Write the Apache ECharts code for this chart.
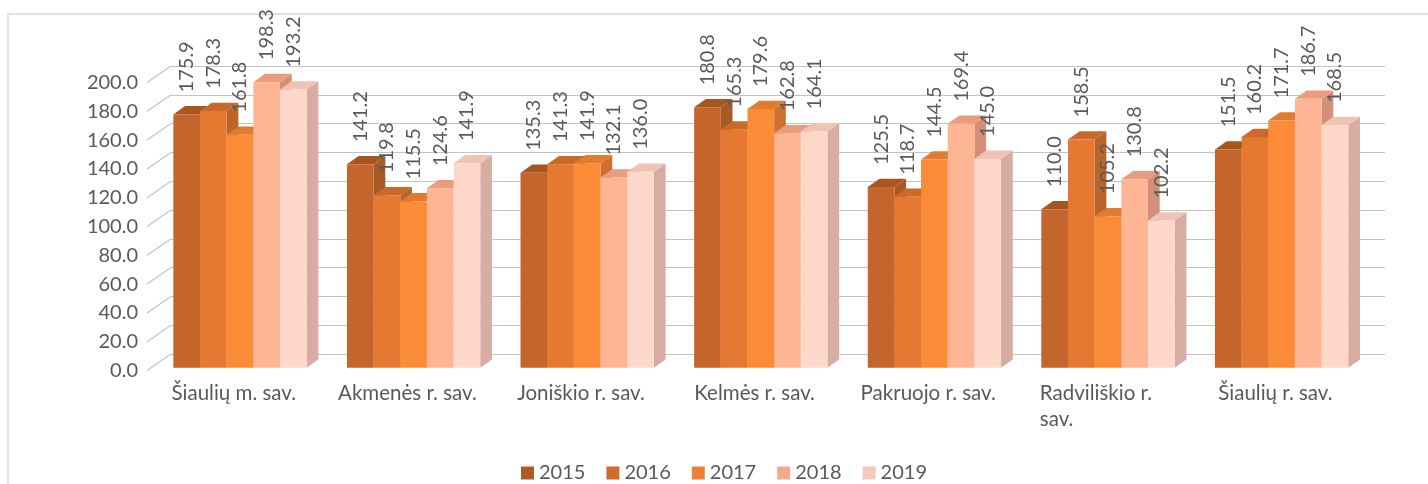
<!DOCTYPE html>
<html>
<head>
<meta charset="utf-8">
<title>Šiaulių regiono savivaldybės</title>
<script src="https://cdn.jsdelivr.net/npm/echarts@6/dist/echarts.min.js"></script>
<style>
html, body { margin: 0; padding: 0; background: #fff; }
#chart { width: 1428px; height: 484px; }
</style>
</head>
<body>
<div id="chart"></div>
<script>
// duomenys
var categories = ['Šiaulių m. sav.', 'Akmenės r. sav.', 'Joniškio r. sav.', 'Kelmės r. sav.',
    'Pakruojo r. sav.', 'Radviliškio r. sav.', 'Šiaulių r. sav.'];
var years = ['2015', '2016', '2017', '2018', '2019'];
var v2015 = [175.9, 141.2, 135.3, 180.8, 125.5, 110.0, 151.5];
var v2016 = [178.3, 119.8, 141.3, 165.3, 118.7, 158.5, 160.2];
var v2017 = [161.8, 115.5, 141.9, 179.6, 144.5, 105.2, 171.7];
var v2018 = [198.3, 124.6, 132.1, 162.8, 169.4, 130.8, 186.7];
var v2019 = [193.2, 141.9, 136.0, 164.1, 145.0, 102.2, 168.5];
var yTicks = [0, 20, 40, 60, 80, 100, 120, 140, 160, 180, 200];

var values = [v2015, v2016, v2017, v2018, v2019];

// spalvos (legenda / priekis / viršus / šonas)
var legendColors = ['#b05b24', '#d16c2c', '#ee7f33', '#f2aa8f', '#f6c9ba'];
var frontColors = ['#c4662b', '#e57931', '#fb8b37', '#fdb594', '#fed9ca'];
var topColors = ['#a8561f', '#c96a2a', '#e07b30', '#e99d7e', '#efc4b4'];
var sideColors = ['#a85a26', '#b8642a', '#cf7030', '#d48f78', '#d7aca2'];

var FONT = 'Lato, "Noto Sans", sans-serif';
var TXT = '#595959';

// 3D poslinkiai
var barDepth = [11.7, 8.3];
var wallDepth = [24, 16.5];
var barRatio = 0.1536;

function barRender(s) {
    return function (params, api) {
        var c = api.value(0), v = api.value(1);
        var p = api.coord([c, v]);
        var p0 = api.coord([c, 0]);
        var cw = api.size([1, 0])[0];
        var bw = cw * barRatio;
        var xl = p[0] - bw * 2.5 + s * bw, xr = xl + bw;
        var yt = p[1], yb = p0[1];
        var dx = barDepth[0], dy = barDepth[1];
        return {
            type: 'group',
            children: [
                { type: 'polygon', shape: { points: [[xr, yt], [xr + dx, yt - dy], [xr + dx, yb - dy], [xr, yb]] },
                  style: { fill: sideColors[s] } },
                { type: 'polygon', shape: { points: [[xl, yt], [xr, yt], [xr + dx, yt - dy], [xl + dx, yt - dy]] },
                  style: { fill: topColors[s] } },
                { type: 'rect', shape: { x: xl, y: yt, width: bw, height: yb - yt },
                  style: { fill: frontColors[s] } },
                { type: 'text', x: xl + bw / 2, y: yt - 22, rotation: Math.PI / 2, z2: 100,
                  style: { text: v.toFixed(1), fill: TXT, fontFamily: FONT, fontSize: 20,
                           align: 'left', verticalAlign: 'middle' } }
            ]
        };
    };
}

var series = years.map(function (y, s) {
    return {
        name: y,
        type: 'custom',
        xAxisIndex: 1,
        yAxisIndex: 1,
        itemStyle: { color: legendColors[s] },
        renderItem: barRender(s),
        encode: { x: 0, y: 1 },
        data: values[s].map(function (v, i) { return [i, v]; })
    };
});

// kairės sienos įstrižainės
series.push({
    name: 'wall',
    type: 'custom',
    xAxisIndex: 0,
    yAxisIndex: 0,
    silent: true,
    renderItem: function (params, api) {
        var p = api.coord([0, api.value(1)]);
        var x = params.coordSys.x;
        return { type: 'line', shape: { x1: x, y1: p[1], x2: x + wallDepth[0], y2: p[1] - wallDepth[1] },
                 style: { stroke: '#c3c3c3', lineWidth: 1.2 } };
    },
    data: yTicks.map(function (t) { return [0, t]; })
});

function catLabel(v) {
    var w = v.split(' ');
    if (v.length > 17) {
        return '{w|' + w.slice(0, -1).join(' ') + '}\n{w|' + w[w.length - 1] + '}';
    }
    return v;
}

var chart = echarts.init(document.getElementById('chart'));
var option = {
    animation: false,
    backgroundColor: '#fff',
    textStyle: { fontFamily: FONT },
    graphic: [{
        type: 'rect',
        shape: { x: 8, y: 14, width: 1440, height: 500 },
        style: { fill: 'none', stroke: '#d9d9d9', lineWidth: 1.5 }
    }],
    legend: {
        data: years,
        left: 516,
        top: 458,
        icon: 'rect',
        itemWidth: 13,
        itemHeight: 13,
        itemGap: 21,
        textStyle: { fontFamily: FONT, fontSize: 20, color: TXT }
    },
    grid: [
        { left: 147, top: 82.5, width: 1215.2, height: 288 },   // priekis
        { left: 153.2, top: 79.7, width: 1215.2, height: 288 }, // stulpeliai
        { left: 171, top: 66, width: 1214, height: 288 }        // galinė siena
    ],
    xAxis: [
        { type: 'category', gridIndex: 0, data: categories,
          axisLine: { show: false }, axisTick: { show: false },
          axisLabel: { interval: 0, hideOverlap: false, color: TXT, fontFamily: FONT, fontSize: 20.5,
                       margin: 10, lineHeight: 26, formatter: catLabel,
                       rich: { w: { width: 124, align: 'left', fontSize: 20.5, lineHeight: 26, color: TXT, fontFamily: FONT } } } },
        { type: 'category', gridIndex: 1, data: categories, show: false },
        { type: 'category', gridIndex: 2, data: categories, show: false }
    ],
    yAxis: [
        { type: 'value', gridIndex: 0, min: 0, max: 200, interval: 20,
          axisLine: { show: false }, axisTick: { show: false }, splitLine: { show: false },
          axisLabel: { color: TXT, fontFamily: FONT, fontSize: 20, margin: 9,
                       formatter: function (v) { return v.toFixed(1); } } },
        { type: 'value', gridIndex: 1, min: 0, max: 200, interval: 20, show: false },
        { type: 'value', gridIndex: 2, min: 0, max: 200, interval: 20,
          axisLine: { show: false }, axisTick: { show: false }, axisLabel: { show: false },
          splitLine: { show: true, lineStyle: { color: '#c3c3c3', width: 1.2 } } }
    ],
    series: series
};
chart.setOption(option);
</script>
</body>
</html>
